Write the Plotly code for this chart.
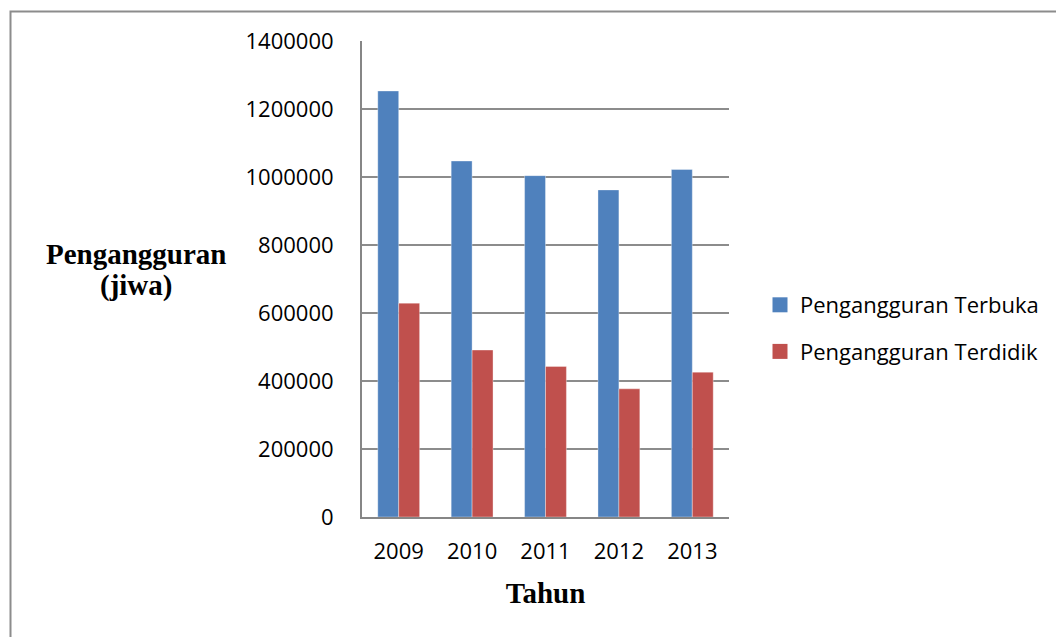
import plotly.graph_objects as go

years = ["2009", "2010", "2011", "2012", "2013"]
terbuka = [1253000, 1047000, 1004000, 962000, 1022000]
terdidik = [629000, 491000, 443000, 377000, 426000]
series_names = ["Pengangguran Terbuka", "Pengangguran Terdidik"]
y_ticks = [0, 200000, 400000, 600000, 800000, 1000000, 1200000, 1400000]

BLUE = "#4F81BD"
RED = "#C0504D"
W, H = 1056, 637
L, R, T, B = 362, 327, 41, 120
pw, ph = W - L - R, H - T - B

fig = go.Figure()
fig.add_trace(go.Bar(x=years, y=terbuka, name=series_names[0], marker_color=BLUE,
                     marker_line=dict(color="rgba(255,255,255,0.35)", width=1), showlegend=False))
fig.add_trace(go.Bar(x=years, y=terdidik, name=series_names[1], marker_color=RED,
                     marker_line=dict(color="rgba(255,255,255,0.35)", width=1), showlegend=False))
# legend proxies
for nm, c, g in [(series_names[0], BLUE, "a"), (series_names[1], RED, "b")]:
    fig.add_trace(go.Scatter(x=[None], y=[None], mode="markers", name=nm, legendgroup=g,
                             marker=dict(symbol="square", size=15, color=c)))

fig.update_layout(
    width=W, height=H,
    margin=dict(l=L, r=R, t=T, b=B, pad=0),
    paper_bgcolor="white", plot_bgcolor="white",
    barmode="group", bargap=0.43, bargroupgap=0,
    font=dict(family="Open Sans", size=22, color="black"),
    legend=dict(x=(771 - 11 - L) / pw, y=1 - (284 - T) / ph, xanchor="left", yanchor="top",
                xref="paper", yref="paper", traceorder="grouped", tracegroupgap=15,
                font=dict(family="Open Sans", size=22, color="black"), bgcolor="rgba(0,0,0,0)"),
    xaxis=dict(showline=True, linecolor="#868686", linewidth=2, ticks="", showgrid=False,
               tickfont=dict(family="Open Sans", size=22), ticklabelstandoff=14,
               title=dict(text="<b>Tahun</b>",
                          font=dict(family="Liberation Serif", size=29, color="black"),
                          standoff=18)),
    yaxis=dict(range=[0, 1400000], tickvals=y_ticks, tickformat="d", showline=True,
               linecolor="#868686", linewidth=2, showgrid=True, gridcolor="#8c8c8c", gridwidth=1.6,
               ticks="", ticklabelstandoff=22, zeroline=False,
               tickfont=dict(family="Open Sans", size=22)),
    annotations=[
        dict(text="<b>Pengangguran</b>", xref="paper", yref="paper",
             x=(136 - L) / pw, y=1 - (254 - T) / ph, xanchor="center", yanchor="middle",
             showarrow=False, font=dict(family="Liberation Serif", size=29, color="black")),
        dict(text="<b>(jiwa)</b>", xref="paper", yref="paper",
             x=(136 - L) / pw, y=1 - (285 - T) / ph, xanchor="center", yanchor="middle",
             showarrow=False, font=dict(family="Liberation Serif", size=29, color="black")),
    ],
    shapes=[dict(type="rect", xref="paper", yref="paper",
                 x0=(10.5 - L) / pw, x1=(W + 5 - L) / pw,
                 y0=1 - (H + 5 - T) / ph, y1=1 - (11.5 - T) / ph,
                 line=dict(color="#8c8c8c", width=2), fillcolor="rgba(0,0,0,0)", layer="below")],
)

fig.write_html("out.html")
